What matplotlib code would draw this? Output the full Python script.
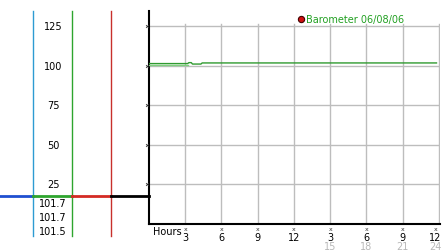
import matplotlib
matplotlib.use("Agg")
import matplotlib.pyplot as plt
from matplotlib.lines import Line2D
from matplotlib import transforms

# ---- data ----
hours_main = [0, 3.2, 3.3, 3.5, 3.6, 4.3, 4.4, 23.8]
baro_main = [101.3, 101.3, 101.9, 101.9, 101.0, 101.0, 101.7, 101.7]
hours_prev = [0, 3.2]
baro_prev = [100.3, 100.3]
y_ticks = [25, 50, 75, 100, 125]
x_ticks = [3, 6, 9, 12, 15, 18, 21, 24]
x_labels = ["3", "6", "9", "12", "3", "6", "9", "12"]
x_labels2 = ["15", "18", "21", "24"]
x_ticks2 = [15, 18, 21, 24]
readings = ["101.7", "101.7", "101.5"]
legend_label = "Barometer 06/08/06"

W, H = 442, 253
fig = plt.figure(figsize=(W / 100, H / 100), dpi=100)
fig.patch.set_facecolor("white")

def fx(px):
    return px / W

def fy(py):
    return 1 - py / H

ax = fig.add_axes([fx(149), fy(225), fx(291), (225 - 12) / H])
ax.set_xlim(0, 24.09)
ax.set_ylim(0, 134.5)
for s in ["top", "right"]:
    ax.spines[s].set_visible(False)
ax.spines["left"].set_linewidth(1.5)
ax.spines["bottom"].set_linewidth(1.5)
ax.set_xticks([])
ax.set_yticks([])
ax.set_facecolor("white")

grid_c = "#bdbdbd"
for yv in y_ticks:
    ax.axhline(yv, color=grid_c, lw=1, zorder=1)
for xv in x_ticks:
    ax.plot([xv, xv], [0, 126.5], color=grid_c, lw=1, zorder=1)

# tick markers on y axis
ax.plot([-0.15] * len(y_ticks), y_ticks, linestyle="none", marker="x",
        ms=2.0, mew=0.6, color="#333333", clip_on=False, zorder=5)

# data lines
ax.plot(hours_prev, baro_prev, color="#7fd07f", lw=1, zorder=3)
ax.plot(hours_main, baro_main, color="#2f9a2f", lw=1, zorder=4)

# x tick labels
xt = transforms.blended_transform_factory(ax.transData, fig.transFigure)
last = x_ticks[-1]
for xv, lab in zip(x_ticks, x_labels):
    ha = "right" if xv == last else "center"
    dx = 0.2 if xv == last else 0
    ax.text(xv - (0.25 if xv == last else 0), fy(230), "x", transform=xt,
            ha="center", va="center", fontsize=4.5, color="#333333")
    ax.text(xv + dx, fy(238), lab, transform=xt, ha=ha, va="center",
            fontsize=7, color="black")
for xv, lab in zip(x_ticks2, x_labels2):
    ha = "right" if xv == last else "center"
    dx = 0.2 if xv == last else 0
    ax.text(xv + dx, fy(247.5), lab, transform=xt, ha=ha, va="center",
            fontsize=7, color="#b8b8b8")
fig.text(fx(153), fy(232), "Hours", ha="left", va="center", fontsize=7,
         color="black")

# left panel y labels
yt = transforms.blended_transform_factory(fig.transFigure, ax.transData)
for yv in y_ticks:
    ax.text(fx(53), yv, str(yv), transform=yt, ha="center", va="center",
            fontsize=7, color="black", clip_on=False)
for i, r in enumerate(readings):
    fig.text(fx(53), fy(204 + 14 * i), r, ha="center", va="center",
             fontsize=7, color="black")

# left panel lines
for x0, c in [(33, "#2d9bd2"), (72, "#2ea52e"), (111, "#c8302c")]:
    fig.add_artist(Line2D([fx(x0), fx(x0)], [fy(12), fy(237)], color=c,
                          lw=1, transform=fig.transFigure))
for x0, x1, c in [(0, 33, "#1f4fd0"), (33, 72, "#2ea52e"),
                  (72, 111, "#d42a24"), (111, 149, "black")]:
    fig.add_artist(Line2D([fx(x0), fx(x1)], [fy(197), fy(197)], color=c,
                          lw=2, transform=fig.transFigure, zorder=3))

# legend
handle = Line2D([], [], marker="o", linestyle="none", markersize=4.5,
                markerfacecolor="#d01010", markeredgecolor="#400000",
                markeredgewidth=0.8)
leg = fig.legend([handle], [legend_label], loc="center left",
                 bbox_to_anchor=(fx(298), fy(20)), frameon=False,
                 fontsize=7, handlelength=0.6, handletextpad=0.25,
                 borderpad=0, borderaxespad=0)
for t in leg.get_texts():
    t.set_color("#22a022")

fig.savefig("out.png", dpi=100)
